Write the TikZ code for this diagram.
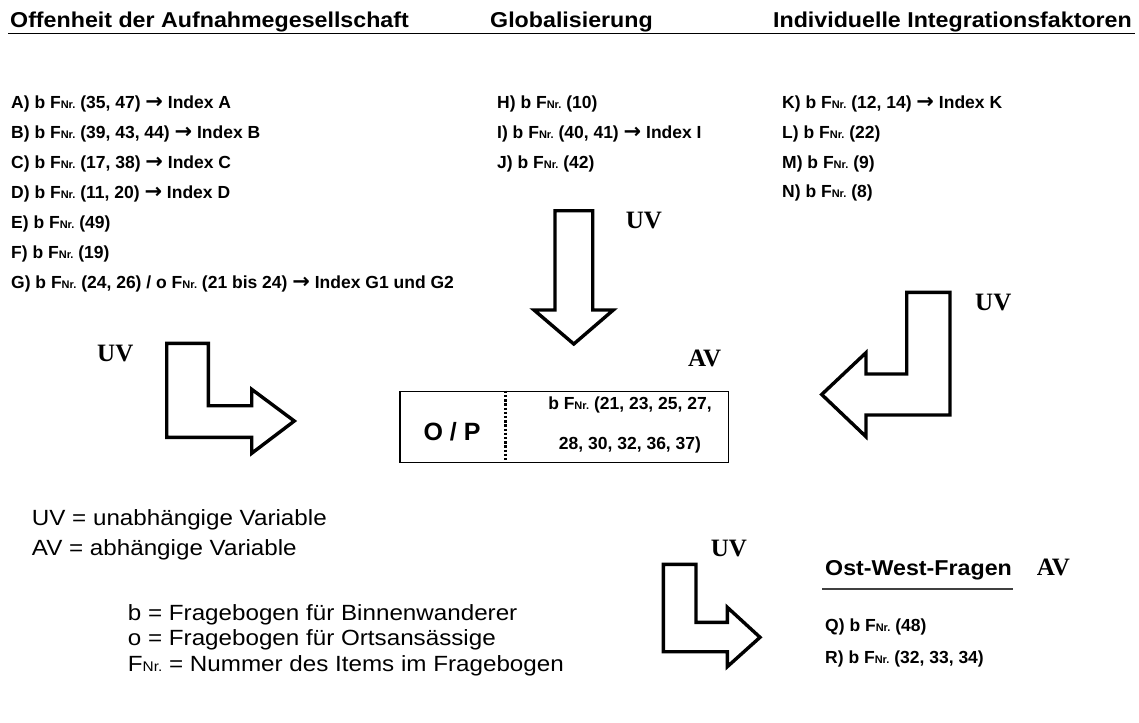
\documentclass[tikz,border=0pt]{standalone}
\usepackage{fontspec}
\setmainfont{Liberation Sans}
\newfontfamily\serifvar{Liberation Serif}
\newfontfamily\arrowfont{DejaVu Sans}
% small "Nr." index after F, size given as argument
\newcommand{\FNr}[1]{F{\fontsize{#1}{#1}\selectfont Nr.}}
\newcommand{\ra}{\scalebox{1.2}{\arrowfont\bfseries\char"2192}}
\newcommand{\headfont}{\fontsize{21.5}{26}\selectfont\bfseries}
\newcommand{\itemfont}{\fontsize{17.5}{21}\selectfont\bfseries}
\newcommand{\legfont}{\fontsize{22}{26}\selectfont}
\newcommand{\varfont}{\serifvar\fontsize{25}{30}\selectfont\bfseries}
\newcommand{\wide}[1]{\scalebox{1.08}[1]{#1}}
\frenchspacing
\begin{document}
\begin{tikzpicture}[x=1pt,y=-1pt,
  head/.style={anchor=base west, inner sep=0pt, font=\headfont},
  item/.style={anchor=base west, inner sep=0pt, font=\itemfont},
  legend/.style={anchor=base west, inner sep=0pt, font=\legfont},
  varlabel/.style={anchor=base west, inner sep=0pt, font=\varfont},
  blockarrow/.style={draw=black, fill=white, line width=3.4pt, line join=miter},
]
\useasboundingbox (0,0) rectangle (1139,722);

% column headings
\node[head] (hOff) at (10,27.5) {\wide{Offenheit der Aufnahmegesellschaft}};
\node[head] (hGlob) at (490,27.5) {\wide{Globalisierung}};
\node[head, anchor=base east] (hInd) at (1132,27.5) {\wide{Individuelle Integrationsfaktoren}};
\coordinate (ruleL) at (8,33.5);
\coordinate (ruleR) at (1135,33.5);
\draw[line width=1.6pt] (ruleL) -- (ruleR);

% first column
\node[item] (iA) at (11,108.3) {A) b \FNr{11} (35, 47) \ra{} Index A};
\node[item] (iB) at (11,138.3) {B) b \FNr{11} (39, 43, 44) \ra{} Index B};
\node[item] (iC) at (11,168.3) {C) b \FNr{11} (17, 38) \ra{} Index C};
\node[item] (iD) at (11,198.3) {D) b \FNr{11} (11, 20) \ra{} Index D};
\node[item] (iE) at (11,228.3) {E) b \FNr{11} (49)};
\node[item] (iF) at (11,258.5) {F) b \FNr{11} (19)};
\node[item] (iG) at (11,288.3) {G) b \FNr{11} (24, 26) / o \FNr{11} (21 bis 24) \ra{} Index G1 und G2};

% second column
\node[item] (iH) at (497,108.3) {H) b \FNr{11} (10)};
\node[item] (iI) at (497,138.3) {I) b \FNr{11} (40, 41) \ra{} Index I};
\node[item] (iJ) at (497,168.3) {J) b \FNr{11} (42)};

% third column
\node[item] (iK) at (782,108.3) {K) b \FNr{11} (12, 14) \ra{} Index K};
\node[item] (iL) at (782,138.3) {L) b \FNr{11} (22)};
\node[item] (iM) at (782,168.3) {M) b \FNr{11} (9)};
\node[item] (iN) at (782,197.5) {N) b \FNr{11} (8)};

% block arrows
\draw[blockarrow] (166.7,343.3) -- (208.3,343.3) -- (208.3,405.7) -- (251.7,405.7)
  -- (251.7,389.3) -- (294.3,421) -- (251.7,453.3) -- (251.7,437.3) -- (166.7,437.3) -- cycle;
\draw[blockarrow] (555,210.7) -- (592.7,210.7) -- (592.7,310) -- (613.3,310)
  -- (573.8,344) -- (534,310) -- (555,310) -- cycle;
\draw[blockarrow] (906.7,292.3) -- (950,292.3) -- (950,415) -- (866,415) -- (866,436.7)
  -- (821.7,394.5) -- (866,352.7) -- (866,374) -- (906.7,374) -- cycle;
\draw[blockarrow] (663.3,564.3) -- (696,564.3) -- (696,622.3) -- (727.3,622.3)
  -- (727.3,607.3) -- (760,637.3) -- (727.3,666.7) -- (727.3,651.7) -- (663.3,651.7) -- cycle;

% variable labels
\node[varlabel] (uvLeft) at (97,361.7) {UV};
\node[varlabel] (uvTop) at (625.7,228.3) {UV};
\node[varlabel] (uvRight) at (975,310.7) {UV};
\node[varlabel] (uvBottom) at (710.7,556) {UV};
\node[varlabel] (avBox) at (688,366.7) {AV};

% dependent variable box
\node[draw, line width=1.3pt, inner sep=0pt, anchor=north west,
      minimum width=328.7pt, minimum height=71pt] (box) at (399.3,390.7) {};
\coordinate (divTop) at (505.3,390.7);
\coordinate (divBot) at (505.3,461.7);
\draw[line width=3pt, dash pattern=on 2.4pt off 1.8pt] (divTop) -- (divBot);
\node[anchor=base, inner sep=0pt, font=\fontsize{25}{30}\selectfont\bfseries] (op) at (452,440) {O / P};
\node[anchor=base, inner sep=0pt, font=\itemfont] (boxL1) at (630,409) {b \FNr{11} (21, 23, 25, 27,};
\node[anchor=base, inner sep=0pt, font=\itemfont] (boxL2) at (630,449) {28, 30, 32, 36, 37)};

% legend
\node[legend] (lgUV) at (31.7,525) {\scalebox{1.1}[1]{UV = unabhängige Variable}};
\node[legend] (lgAV) at (31.7,555) {\scalebox{1.1}[1]{AV = abhängige Variable}};
\node[legend] (lgB) at (127.7,620) {\scalebox{1.1}[1]{b = Fragebogen für Binnenwanderer}};
\node[legend] (lgO) at (127.7,645.5) {\scalebox{1.1}[1]{o = Fragebogen für Ortsansässige}};
\node[legend] (lgF) at (127.7,671.5) {\scalebox{1.1}[1]{\FNr{14} = Nummer des Items im Fragebogen}};

% east-west block
\node[head] (hOW) at (825,575) {\wide{Ost-West-Fragen}};
\node[varlabel] (avOW) at (1036.7,575) {AV};
\coordinate (owL) at (822,589);
\coordinate (owR) at (1013,589);
\draw[line width=1.2pt, black!75] (owL) -- (owR);
\node[item] (iQ) at (825,631.7) {Q) b \FNr{11} (48)};
\node[item] (iR) at (825,663.3) {R) b \FNr{11} (32, 33, 34)};
\end{tikzpicture}
\end{document}
